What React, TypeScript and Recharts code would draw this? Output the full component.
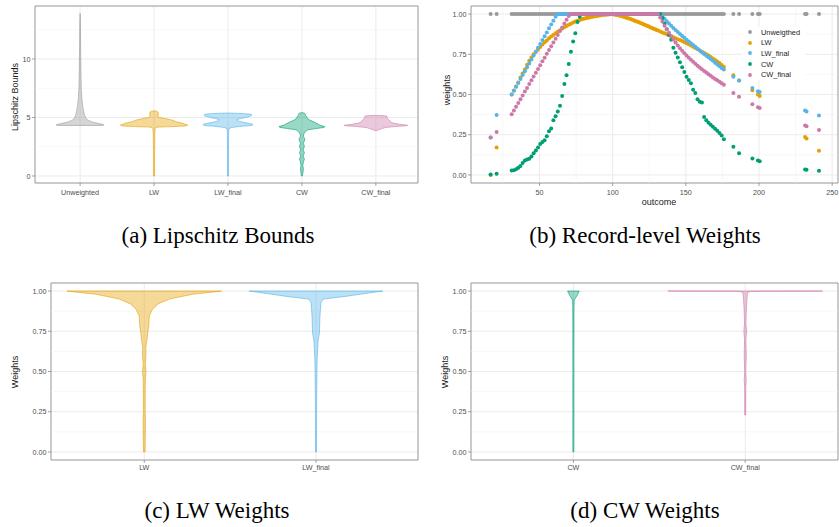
import React from 'react';
import {
  ScatterChart,
  Scatter,
  XAxis,
  YAxis,
  CartesianGrid,
  ReferenceLine,
  ReferenceArea,
  Legend,
} from 'recharts';

const GREY = '#999999';
const ORANGE = '#E69F00';
const BLUE = '#56B4E9';
const GREEN = '#009E73';
const PINK = '#CC79A7';
const SANS = '"Liberation Sans", Arial, sans-serif';

// (a) Lipschitz bounds: violin profiles as [value, half width in category units]
const LB_GROUPS = ['Unweighted', 'LW', 'LW_final', 'CW', 'CW_final'];
const LB_UNWEIGHTED = [[4.32, 0.3], [4.36, 0.325], [4.42, 0.3], [4.5, 0.24], [4.6, 0.17], [4.75, 0.11], [4.9, 0.08], [5.2, 0.06], [5.6, 0.045], [6.0, 0.035], [6.5, 0.025], [7.5, 0.016], [9, 0.011], [11, 0.007], [13, 0.005], [13.9, 0]];
const LB_LW = [[0, 0.008], [2, 0.008], [3.5, 0.01], [4.05, 0.015], [4.12, 0.025], [4.18, 0.05], [4.22, 0.25], [4.28, 0.43], [4.35, 0.455], [4.45, 0.41], [4.5, 0.39], [4.64, 0.3], [4.79, 0.237], [4.93, 0.135], [5.0, 0.07], [5.07, 0.055], [5.3, 0.058], [5.45, 0.055], [5.53, 0.035], [5.57, 0]];
const LB_LW_FINAL = [[0, 0.007], [2, 0.007], [3.8, 0.008], [4.05, 0.014], [4.15, 0.05], [4.25, 0.19], [4.32, 0.32], [4.4, 0.34], [4.5, 0.28], [4.6, 0.2], [4.7, 0.14], [4.8, 0.12], [4.9, 0.16], [5.0, 0.24], [5.1, 0.3], [5.2, 0.325], [5.28, 0.31], [5.34, 0.2], [5.38, 0]];
const LB_CW = [[0, 0.007], [0.3, 0.014], [0.6, 0.02], [0.9, 0.012], [1.2, 0.02], [1.45, 0.034], [1.7, 0.016], [2.0, 0.034], [2.2, 0.016], [2.55, 0.034], [2.8, 0.018], [3.0, 0.034], [3.2, 0.038], [3.4, 0.018], [3.6, 0.027], [3.8, 0.047], [3.95, 0.08], [4.05, 0.19], [4.15, 0.3], [4.22, 0.31], [4.35, 0.24], [4.5, 0.2], [4.65, 0.15], [4.8, 0.1], [4.95, 0.07], [5.07, 0.065], [5.15, 0.045], [5.25, 0.05], [5.35, 0.04], [5.42, 0]];
const LB_CW_FINAL = [[3.87, 0], [3.95, 0.04], [4.05, 0.08], [4.15, 0.135], [4.22, 0.245], [4.28, 0.38], [4.33, 0.43], [4.4, 0.34], [4.5, 0.245], [4.6, 0.2], [4.7, 0.19], [4.8, 0.175], [4.9, 0.16], [5.0, 0.155], [5.1, 0.15], [5.15, 0.12], [5.18, 0]];

// (b) record-level weights
const OUTCOME = [
  16.6, 20.7,
  31, 32.5, 34, 35.5, 37, 38.5, 40, 41.5, 43, 44.5, 46, 47.5, 49, 50.5, 52, 53.5, 55, 56.5, 58, 59.5, 61, 62.5, 64, 65.5, 67, 68.5, 70, 71.5, 73, 74.5, 76, 77.5,
  79, 80, 81, 82, 83, 84, 85, 86, 87, 88, 89, 90, 91, 92, 93, 94, 95, 96, 97, 98,
  99, 100, 101, 102, 103, 104, 105, 106, 107, 108, 109, 110, 111, 112, 113, 114, 115, 116, 117, 118,
  119, 120, 121, 122, 123, 124, 125, 126, 127, 128, 129, 130,
  131, 132.5, 134, 135.5, 137, 138.5, 140, 141.5, 143, 144.5, 146, 147.5, 149, 150.5, 152, 153.5, 155, 156.5, 158, 159.5, 161, 162.5, 164, 165.5, 167, 168.5, 170, 171.5, 173, 174.5, 176,
  182.5, 186.4, 195.5, 199.3, 200.5, 231.5, 232.5, 241,
];
const W_UNWEIGHTED = [
  1, 1,
  1, 1, 1, 1, 1, 1, 1, 1, 1, 1, 1, 1, 1, 1, 1, 1, 1, 1, 1, 1, 1, 1, 1, 1, 1, 1, 1, 1, 1, 1, 1, 1,
  1, 1, 1, 1, 1, 1, 1, 1, 1, 1, 1, 1, 1, 1, 1, 1, 1, 1, 1, 1,
  1, 1, 1, 1, 1, 1, 1, 1, 1, 1, 1, 1, 1, 1, 1, 1, 1, 1, 1, 1,
  1, 1, 1, 1, 1, 1, 1, 1, 1, 1, 1, 1,
  1, 1, 1, 1, 1, 1, 1, 1, 1, 1, 1, 1, 1, 1, 1, 1, 1, 1, 1, 1, 1, 1, 1, 1, 1, 1, 1, 1, 1, 1, 1,
  1, 1, 1, 1, 1, 1, 1, 1,
];
const W_LW = [
  0.0, 0.17,
  0.5, 0.525, 0.55, 0.575, 0.605, 0.63, 0.655, 0.685, 0.71, 0.73, 0.75, 0.765, 0.78, 0.795, 0.81, 0.825, 0.835, 0.85, 0.86, 0.87, 0.88, 0.89, 0.9, 0.908, 0.918, 0.925, 0.933, 0.94, 0.947, 0.953, 0.958, 0.963,
  0.968, 0.97, 0.972, 0.975, 0.977, 0.979, 0.981, 0.983, 0.985, 0.987, 0.988, 0.99, 0.991, 0.993, 0.994, 0.995, 0.996, 0.997, 0.997, 0.998,
  0.998, 0.998, 0.997, 0.996, 0.994, 0.992, 0.99, 0.988, 0.985, 0.982, 0.979, 0.976, 0.973, 0.97, 0.966, 0.963, 0.959, 0.956, 0.952, 0.949,
  0.945, 0.941, 0.937, 0.933, 0.929, 0.925, 0.921, 0.917, 0.913, 0.909, 0.905, 0.901,
  0.898, 0.892, 0.886, 0.88, 0.874, 0.868, 0.862, 0.856, 0.85, 0.844, 0.838, 0.832, 0.825, 0.819, 0.812, 0.805, 0.797, 0.789, 0.782, 0.774, 0.766, 0.758, 0.75, 0.742, 0.733, 0.724, 0.715, 0.705, 0.695, 0.684, 0.673,
  0.62, 0.587, 0.527, 0.5, 0.49, 0.236, 0.226, 0.15,
];
const W_LW_FINAL = [
  0.233, 0.372,
  0.5, 0.524, 0.548, 0.572, 0.597, 0.621, 0.645, 0.669, 0.693, 0.717, 0.742, 0.766, 0.79, 0.814, 0.838, 0.862, 0.886, 0.911, 0.935, 0.959, 0.983, 1, 1, 1, 1, 1, 1, 1, 1, 1, 1, 1,
  1, 1, 1, 1, 1, 1, 1, 1, 1, 1, 1, 1, 1, 1, 1, 1, 1, 1, 1, 1,
  1, 1, 1, 1, 1, 1, 1, 1, 1, 1, 1, 1, 1, 1, 1, 1, 1, 1, 1, 1,
  1, 1, 1, 1, 1, 1, 1, 1, 1, 1, 1, 1,
  1, 1, 0.985, 0.97, 0.955, 0.941, 0.927, 0.914, 0.901, 0.888, 0.876, 0.864, 0.852, 0.84, 0.829, 0.818, 0.807, 0.796, 0.785, 0.774, 0.763, 0.752, 0.741, 0.731, 0.72, 0.709, 0.698, 0.687, 0.676, 0.665, 0.655,
  0.61, 0.587, 0.54, 0.52, 0.515, 0.4, 0.395, 0.37,
];
const W_CW = [
  0.003, 0.008,
  0.027, 0.03, 0.036, 0.045, 0.055, 0.075, 0.09, 0.096, 0.1, 0.115, 0.135, 0.152, 0.17, 0.193, 0.205, 0.215, 0.24, 0.272, 0.288, 0.34, 0.365, 0.395, 0.43, 0.49, 0.565, 0.62, 0.69, 0.765, 0.83, 0.88, 0.95, 0.983,
  1, 1, 1, 1, 1, 1, 1, 1, 1, 1, 1, 1, 1, 1, 1, 1, 1, 1, 1, 1,
  1, 1, 1, 1, 1, 1, 1, 1, 1, 1, 1, 1, 1, 1, 1, 1, 1, 1, 1, 1,
  1, 1, 1, 1, 1, 1, 1, 1, 1, 1, 1, 1,
  1, 1, 0.975, 0.94, 0.905, 0.87, 0.84, 0.79, 0.76, 0.73, 0.7, 0.67, 0.64, 0.61, 0.59, 0.57, 0.53, 0.51, 0.47, 0.455, 0.45, 0.36, 0.34, 0.325, 0.312, 0.3, 0.287, 0.275, 0.26, 0.245, 0.222,
  0.175, 0.135, 0.103, 0.09, 0.085, 0.034, 0.032, 0.026,
];
const W_CW_FINAL = [
  0.233, 0.267,
  0.377, 0.4, 0.424, 0.447, 0.471, 0.494, 0.518, 0.541, 0.565, 0.588, 0.612, 0.635, 0.659, 0.682, 0.706, 0.729, 0.753, 0.776, 0.8, 0.823, 0.847, 0.87, 0.894, 0.917, 0.941, 0.964, 0.988, 1, 1, 1, 1, 1,
  1, 1, 1, 1, 1, 1, 1, 1, 1, 1, 1, 1, 1, 1, 1, 1, 1, 1, 1, 1,
  1, 1, 1, 1, 1, 1, 1, 1, 1, 1, 1, 1, 1, 1, 1, 1, 1, 1, 1, 1,
  1, 1, 1, 1, 1, 1, 1, 1, 1, 1, 1, 1,
  1, 0.978, 0.953, 0.928, 0.905, 0.883, 0.862, 0.842, 0.823, 0.805, 0.788, 0.772, 0.757, 0.743, 0.729, 0.716, 0.703, 0.691, 0.679, 0.668, 0.657, 0.646, 0.636, 0.626, 0.616, 0.606, 0.597, 0.588, 0.579, 0.57, 0.561,
  0.51, 0.486, 0.44, 0.42, 0.416, 0.307, 0.303, 0.28,
];
const WEIGHT_SERIES = [
  { name: 'Unweigthed', values: W_UNWEIGHTED, color: GREY },
  { name: 'LW', values: W_LW, color: ORANGE },
  { name: 'LW_final', values: W_LW_FINAL, color: BLUE },
  { name: 'CW', values: W_CW, color: GREEN },
  { name: 'CW_final', values: W_CW_FINAL, color: PINK },
];

// (c) LW weights
const LWW_GROUPS = ['LW', 'LW_final'];
const LWW_LW = [[0, 0.005], [0.2, 0.007], [0.25, 0.005], [0.45, 0.006], [0.5, 0.01], [0.55, 0.006], [0.6, 0.01], [0.65, 0.009], [0.69, 0.015], [0.74, 0.02], [0.78, 0.026], [0.845, 0.029], [0.865, 0.038], [0.886, 0.047], [0.92, 0.08], [0.95, 0.145], [0.98, 0.28], [0.995, 0.41], [1.0, 0.45]];
const LWW_LW_FINAL = [[0, 0.003], [0.3, 0.0035], [0.45, 0.005], [0.5, 0.005], [0.58, 0.007], [0.69, 0.012], [0.74, 0.02], [0.845, 0.023], [0.93, 0.029], [0.95, 0.043], [0.968, 0.18], [0.99, 0.32], [1.0, 0.39]];

// (d) CW weights
const CWW_GROUPS = ['CW', 'CW_final'];
const CWW_CW = [[0, 0.003], [0.5, 0.003], [0.9, 0.0035], [0.944, 0.005], [0.97, 0.02], [1.0, 0.034]];
const CWW_CW_FINAL = [[0.23, 0.003], [0.4, 0.003], [0.45, 0.006], [0.5, 0.003], [0.6, 0.006], [0.7, 0.004], [0.75, 0.008], [0.8, 0.004], [0.9, 0.007], [0.95, 0.01], [0.99, 0.013], [0.998, 0.03], [1.0, 0.45]];

const WEIGHT_TICKS = [0, 0.25, 0.5, 0.75, 1];
const WEIGHT_MINOR = [0.125, 0.375, 0.625, 0.875];

const tickStyle = { fontSize: 7.2, fill: '#4d4d4d', fontFamily: SANS };
const noDot = () => <g />;

function violinPoints(center: number, profile: number[][]) {
  const right = profile.map(([y, w]) => ({ x: center + w, y }));
  const left = profile.slice().reverse().map(([y, w]) => ({ x: center - w, y }));
  return [...right, ...left, right[0]];
}

function violin(key: string, center: number, profile: number[][], color: string) {
  return (
    <Scatter
      key={key}
      data={violinPoints(center, profile)}
      fill={color}
      shape={noDot}
      line={{ stroke: color, strokeWidth: 0.6, fill: color, fillOpacity: 0.4 }}
      legendType="none"
      isAnimationActive={false}
    />
  );
}

// all five weight series go into one scatter so that later series paint on top
const weightPoints = WEIGHT_SERIES.flatMap((s) =>
  OUTCOME.map((o, i) => ({ x: o, y: s.values[i], series: s.name }))
);
const colorOf = (name: string) => (WEIGHT_SERIES.find((s) => s.name === name) || WEIGHT_SERIES[0]).color;
const weightDot = (p: any) => <circle cx={p.cx} cy={p.cy} r={2} fill={colorOf(p.payload && p.payload.series)} />;

function minorLines(ys: number[], xs: number[] = []) {
  return [
    ...ys.map((y) => <ReferenceLine key={'my' + y} y={y} stroke="#f2f2f2" strokeWidth={0.6} />),
    ...xs.map((x) => <ReferenceLine key={'mx' + x} x={x} stroke="#f2f2f2" strokeWidth={0.6} />),
  ];
}

function frame(x: number[], y: number[]) {
  return <ReferenceArea x1={x[0]} x2={x[1]} y1={y[0]} y2={y[1]} fill="none" fillOpacity={0} stroke="#8c8c8c" strokeWidth={0.8} />;
}

function Title({ text, x, y, rotate }: { text: string; x: number; y: number; rotate?: boolean }) {
  return (
    <div
      style={{
        position: 'absolute',
        left: x,
        top: y,
        transform: `translate(-50%, -50%)${rotate ? ' rotate(-90deg)' : ''}`,
        fontSize: 9,
        fontFamily: SANS,
        color: '#1a1a1a',
        whiteSpace: 'nowrap',
      }}
    >
      {text}
    </div>
  );
}

function Caption({ text, x, y }: { text: string; x: number; y: number }) {
  return (
    <div
      style={{
        position: 'absolute',
        left: x,
        top: y,
        transform: 'translate(-50%, -50%)',
        fontSize: 23,
        fontFamily: '"Liberation Serif", "Times New Roman", serif',
        color: '#000',
        whiteSpace: 'nowrap',
      }}
    >
      {text}
    </div>
  );
}

function renderLegend() {
  return (
    <div style={{ background: '#fff', paddingLeft: 5, width: 58, fontFamily: SANS }}>
      {WEIGHT_SERIES.map((s) => (
        <div key={s.name} style={{ display: 'flex', alignItems: 'center', height: 10.6, fontSize: 7.4, color: '#1a1a1a' }}>
          <svg width={14} height={6} style={{ flex: 'none' }}>
            <circle cx={3} cy={3} r={1.9} fill={s.color} />
          </svg>
          <span>{s.name}</span>
        </div>
      ))}
    </div>
  );
}

export default function App() {
  const lbX = [0.39, 5.57];
  const lbY = [-0.6, 14.53];
  const bX = [3.2, 254];
  const wY = [-0.05, 1.05];
  const cX = [0.457, 2.594];
  const dX = [0.404, 2.54];

  const lbProfiles = [LB_UNWEIGHTED, LB_LW, LB_LW_FINAL, LB_CW, LB_CW_FINAL];
  const lbColors = [GREY, ORANGE, BLUE, GREEN, PINK];

  return (
    <div style={{ position: 'absolute', left: 0, top: 0, width: 839, height: 527, background: '#fff', overflow: 'hidden' }}>
      {/* (a) */}
      <div style={{ position: 'absolute', left: 0, top: 0 }}>
        <ScatterChart width={420} height={210} margin={{ top: 6, right: 2, bottom: 7, left: 0 }}>
          {minorLines([2.5, 7.5, 12.5])}
          <CartesianGrid stroke="#ebebeb" strokeWidth={1} />
          <XAxis
            type="number"
            dataKey="x"
            domain={lbX}
            allowDataOverflow
            ticks={[1, 2, 3, 4, 5]}
            interval={0}
            tickFormatter={(v: number) => LB_GROUPS[Math.round(v) - 1]}
            axisLine={false}
            tickSize={3}
            tickMargin={4}
            tick={tickStyle}
            tickLine={{ stroke: '#666', strokeWidth: 0.6 }}
            height={20}
          />
          <YAxis
            type="number"
            dataKey="y"
            domain={lbY}
            allowDataOverflow
            ticks={[0, 5, 10]}
            interval={0}
            axisLine={false}
            tickSize={3}
            tickMargin={1.5}
            tick={tickStyle}
            tickLine={{ stroke: '#666', strokeWidth: 0.6 }}
            width={35}
          />
          {lbProfiles.map((p, i) => violin('lb' + i, i + 1, p, lbColors[i]))}
          {frame(lbX, lbY)}
        </ScatterChart>
      </div>
      <Title text="Lipschitz Bounds" x={15} y={97} rotate />

      {/* (b) */}
      <div style={{ position: 'absolute', left: 420, top: 0 }}>
        <ScatterChart width={419} height={210} margin={{ top: 6, right: 1, bottom: 7, left: 0 }}>
          {minorLines(WEIGHT_MINOR, [25, 75, 125, 175, 225])}
          <CartesianGrid stroke="#ebebeb" strokeWidth={1} />
          <XAxis
            type="number"
            dataKey="x"
            domain={bX}
            allowDataOverflow
            ticks={[50, 100, 150, 200, 250]}
            interval={0}
            axisLine={false}
            tickSize={3}
            tickMargin={4}
            tick={tickStyle}
            tickLine={{ stroke: '#666', strokeWidth: 0.6 }}
            height={20}
          />
          <YAxis
            type="number"
            dataKey="y"
            domain={wY}
            allowDataOverflow
            ticks={WEIGHT_TICKS}
            interval={0}
            tickFormatter={(v: number) => v.toFixed(2)}
            axisLine={false}
            tickSize={3}
            tickMargin={1.5}
            tick={tickStyle}
            tickLine={{ stroke: '#666', strokeWidth: 0.6 }}
            width={51}
          />
          <Scatter
            name="weights"
            data={weightPoints}
            fill={GREY}
            shape={weightDot}
            legendType="none"
            isAnimationActive={false}
          />
          {frame(bX, wY)}
          <Legend
            layout="vertical"
            align="center"
            verticalAlign="middle"
            wrapperStyle={{ left: 322, top: 27, width: 63 }}
            content={renderLegend}
          />
        </ScatterChart>
      </div>
      <Title text="weights" x={447} y={90} rotate />
      <Title text="outcome" x={659} y={202} />

      {/* (c) */}
      <div style={{ position: 'absolute', left: 0, top: 275 }}>
        <ScatterChart width={420} height={210} margin={{ top: 8, right: 2, bottom: 5, left: 0 }}>
          {minorLines(WEIGHT_MINOR)}
          <CartesianGrid stroke="#ebebeb" strokeWidth={1} />
          <XAxis
            type="number"
            dataKey="x"
            domain={cX}
            allowDataOverflow
            ticks={[1, 2]}
            interval={0}
            tickFormatter={(v: number) => LWW_GROUPS[Math.round(v) - 1]}
            axisLine={false}
            tickSize={3}
            tickMargin={2}
            tick={tickStyle}
            tickLine={{ stroke: '#666', strokeWidth: 0.6 }}
            height={20}
          />
          <YAxis
            type="number"
            dataKey="y"
            domain={wY}
            allowDataOverflow
            ticks={WEIGHT_TICKS}
            interval={0}
            tickFormatter={(v: number) => v.toFixed(2)}
            axisLine={false}
            tickSize={3}
            tickMargin={1.5}
            tick={tickStyle}
            tickLine={{ stroke: '#666', strokeWidth: 0.6 }}
            width={51}
          />
          {violin('c1', 1, LWW_LW, ORANGE)}
          {violin('c2', 2, LWW_LW_FINAL, BLUE)}
          {frame(cX, wY)}
        </ScatterChart>
      </div>
      <Title text="Weights" x={15} y={372} rotate />

      {/* (d) */}
      <div style={{ position: 'absolute', left: 420, top: 275 }}>
        <ScatterChart width={419} height={210} margin={{ top: 8, right: 1, bottom: 5, left: 0 }}>
          {minorLines(WEIGHT_MINOR)}
          <CartesianGrid stroke="#ebebeb" strokeWidth={1} />
          <XAxis
            type="number"
            dataKey="x"
            domain={dX}
            allowDataOverflow
            ticks={[1, 2]}
            interval={0}
            tickFormatter={(v: number) => CWW_GROUPS[Math.round(v) - 1]}
            axisLine={false}
            tickSize={3}
            tickMargin={2}
            tick={tickStyle}
            tickLine={{ stroke: '#666', strokeWidth: 0.6 }}
            height={20}
          />
          <YAxis
            type="number"
            dataKey="y"
            domain={wY}
            allowDataOverflow
            ticks={WEIGHT_TICKS}
            interval={0}
            tickFormatter={(v: number) => v.toFixed(2)}
            axisLine={false}
            tickSize={3}
            tickMargin={1.5}
            tick={tickStyle}
            tickLine={{ stroke: '#666', strokeWidth: 0.6 }}
            width={51}
          />
          {violin('d1', 1, CWW_CW, GREEN)}
          {violin('d2', 2, CWW_CW_FINAL, PINK)}
          {frame(dX, wY)}
        </ScatterChart>
      </div>
      <Title text="Weights" x={445} y={372} rotate />

      <Caption text="(a) Lipschitz Bounds" x={218} y={236} />
      <Caption text="(b) Record-level Weights" x={645} y={236} />
      <Caption text="(c) LW Weights" x={217} y={511} />
      <Caption text="(d) CW Weights" x={645} y={511} />
    </div>
  );
}
